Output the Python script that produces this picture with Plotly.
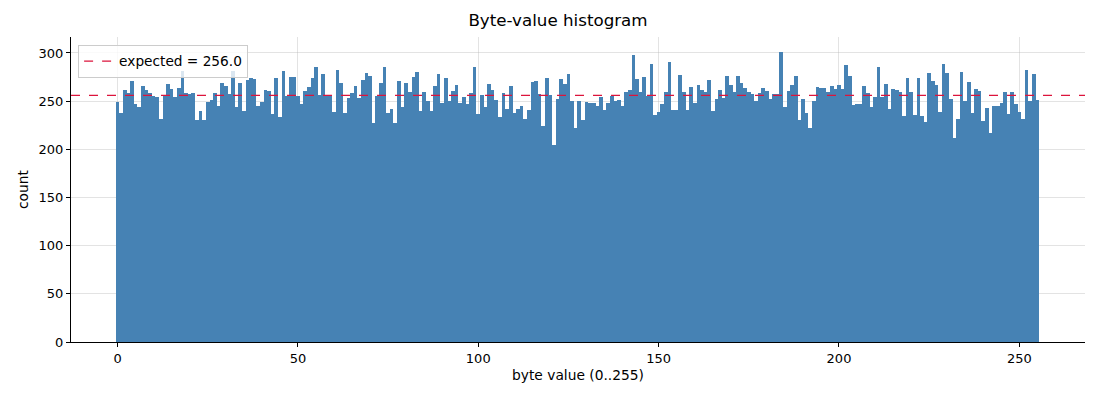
import plotly.graph_objects as go

# histogram of byte values 0..255 (counts)
byte_values = list(range(256))
counts = [
    249, 238, 262, 258, 271, 247, 244, 266, 262, 258, 255, 254, 232, 255, 268, 263,
    254, 264, 281, 258, 257, 258, 230, 240, 230, 249, 251, 258, 245, 269, 266, 257,
    281, 244, 269, 240, 272, 274, 273, 245, 249, 262, 261, 237, 274, 234, 281, 255,
    275, 275, 255, 247, 261, 265, 274, 285, 256, 278, 256, 256, 239, 282, 269, 238,
    253, 258, 266, 253, 272, 279, 276, 227, 255, 269, 285, 238, 242, 227, 271, 244,
    269, 260, 275, 280, 240, 259, 250, 240, 266, 278, 248, 274, 250, 261, 267, 248,
    254, 247, 258, 285, 237, 256, 244, 268, 262, 251, 234, 258, 242, 266, 238, 242,
    245, 232, 241, 270, 271, 257, 224, 274, 256, 205, 252, 273, 268, 278, 250, 222,
    250, 230, 249, 248, 248, 245, 254, 241, 248, 255, 250, 251, 245, 259, 262, 298,
    273, 260, 275, 255, 289, 236, 239, 247, 260, 291, 241, 241, 277, 259, 241, 265,
    248, 267, 262, 260, 272, 240, 252, 262, 253, 276, 267, 259, 276, 269, 264, 260,
    257, 250, 258, 264, 261, 252, 257, 257, 301, 244, 261, 267, 276, 230, 252, 238,
    222, 250, 265, 264, 264, 259, 266, 263, 267, 263, 288, 276, 246, 247, 247, 266,
    258, 244, 254, 285, 254, 268, 242, 263, 262, 260, 235, 274, 259, 236, 274, 235,
    228, 279, 271, 267, 239, 289, 279, 252, 212, 231, 280, 250, 270, 238, 263, 261,
    229, 243, 217, 245, 245, 248, 260, 237, 259, 247, 239, 232, 282, 250, 278, 251,
]
expected = 256.0

x_ticks = [0, 50, 100, 150, 200, 250]
y_ticks = [0, 50, 100, 150, 200, 250, 300]

fig = go.Figure()

fig.add_trace(go.Bar(
    x=byte_values, y=counts, width=1,
    marker=dict(color='#4682b4', line=dict(width=0)),
    showlegend=False
))

# expected count line, shown in the legend
fig.add_shape(
    type='line', xref='paper', x0=0, x1=1, yref='y', y0=expected, y1=expected,
    line=dict(color='#dc143c', width=1.2, dash='dash'),
    showlegend=True, name='expected = ' + str(expected)
)

# page body has an 8px margin, so the margins are shifted to compensate
grid = 'rgba(176,176,176,0.35)'
fig.update_layout(
    width=1100, height=400,
    margin=dict(l=63, r=23, t=29, b=66),
    paper_bgcolor='white', plot_bgcolor='white',
    font=dict(family='DejaVu Sans', size=13, color='black'),
    title=dict(text='Byte-value histogram', x=0.5, xanchor='center',
               y=0.985, yanchor='top', font=dict(size=16.7)),
    bargap=0,
    legend=dict(x=0.007, y=0.975, xanchor='left', yanchor='top',
                bgcolor='rgba(255,255,255,0.8)', bordercolor='#cccccc',
                borderwidth=1, font=dict(size=13.7)),
    xaxis=dict(
        range=[-12.9, 268.2], tickvals=x_ticks, showgrid=True, gridcolor=grid,
        zeroline=False, showline=True, linecolor='black', linewidth=1,
        ticks='outside', ticklen=4, tickcolor='black', layer='above traces',
        tickfont=dict(size=13),
        title=dict(text='byte value (0..255)', standoff=5, font=dict(size=13.8))
    ),
    yaxis=dict(
        range=[0, 316.6], tickvals=y_ticks, showgrid=True, gridcolor=grid,
        zeroline=False, showline=True, linecolor='black', linewidth=1,
        ticks='outside', ticklen=4, tickcolor='black', layer='above traces',
        tickfont=dict(size=13),
        title=dict(text='count', standoff=6, font=dict(size=13.8))
    ),
)

fig.write_html("out.html")
